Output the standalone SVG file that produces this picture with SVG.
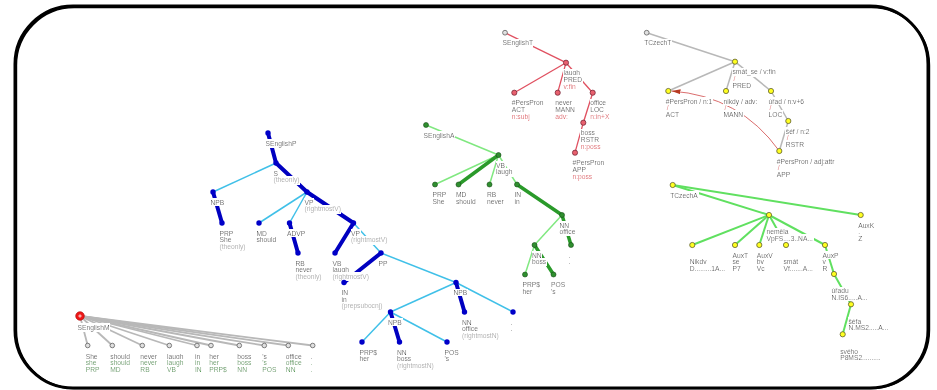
<svg xmlns="http://www.w3.org/2000/svg" width="937" height="390" viewBox="0 0 937 390">
<defs>
<filter id="bg" x="0" y="0" width="1" height="1"><feFlood flood-color="#ffffff"/><feComposite in="SourceGraphic" operator="over"/></filter>
<marker id="arr" markerUnits="userSpaceOnUse" markerWidth="9" markerHeight="6" refX="9" refY="3" orient="auto"><path d="M0,0.5 L9,3 L0,5.5 z" fill="#b83a22"/></marker>
<style>
text{font-family:"Liberation Sans",Arial,sans-serif;font-size:6.7px;fill:#333;filter:url(#bg)}
text.a{fill:#aaaaaa}
text.r{fill:#e03545}
text.gr{fill:#3c963c}
line{fill:none}
.eb{stroke:#0000c0;stroke-width:4;stroke-linecap:round}
.el{stroke:#40c0e8;stroke-width:1.5}
.eg{stroke:#2a9a2a;stroke-width:3.5;stroke-linecap:round}
.egl{stroke:#80e880;stroke-width:1.5}
.er{stroke:#e05060;stroke-width:1.3}
.et{stroke:#b8b8b8;stroke-width:1.5}
.ea{stroke:#60e060;stroke-width:2}
.em{stroke:#b8b8b8;stroke-width:1.8}
.nb{fill:#0000c8}
.ng{fill:#2f8f2f;stroke:#1a4a1a;stroke-width:0.6}
.nr{fill:#e8606e;stroke:#6a2030;stroke-width:0.7}
.ny{fill:#ffff20;stroke:#606030;stroke-width:0.8}
.no{fill:#e0e0e0;stroke:#606060;stroke-width:0.8}
</style>
</defs>
<rect x="0" y="0" width="937" height="390" fill="#ffffff"/>
<rect x="16.2" y="7.2" width="913" height="381" rx="58" ry="58" fill="none" stroke="#000" stroke-width="2"/>
<rect x="15" y="6" width="913" height="382" rx="58" ry="58" fill="none" stroke="#000" stroke-width="3"/>

<g id="connectors">
<!-- SEnglishM -->
<line class="em" x1="80" y1="316" x2="87.7" y2="345.5"/>
<line class="em" x1="80" y1="316" x2="112.3" y2="345.5"/>
<line class="em" x1="80" y1="316" x2="142.3" y2="345.5"/>
<line class="em" x1="80" y1="316" x2="169.3" y2="345.5"/>
<line class="em" x1="80" y1="316" x2="197" y2="345.5"/>
<line class="em" x1="80" y1="316" x2="211" y2="345.5"/>
<line class="em" x1="80" y1="316" x2="239.3" y2="345.5"/>
<line class="em" x1="80" y1="316" x2="264.3" y2="345.5"/>
<line class="em" x1="80" y1="316" x2="288.3" y2="345.5"/>
<line class="em" x1="80" y1="316" x2="312.7" y2="345.5"/>
<!-- SEnglishP -->
<line class="el" x1="276" y1="163" x2="213" y2="192"/>
<line class="el" x1="307" y1="192" x2="259" y2="223"/>
<line class="el" x1="307" y1="192" x2="289.5" y2="223"/>
<line class="el" x1="353.5" y1="223" x2="381" y2="253"/>
<line class="el" x1="381" y1="253" x2="456" y2="282.5"/>
<line class="el" x1="456" y1="282.5" x2="390.5" y2="312"/>
<line class="el" x1="456" y1="282.5" x2="513" y2="312"/>
<line class="el" x1="390.5" y1="312" x2="362" y2="342"/>
<line class="el" x1="390.5" y1="312" x2="447" y2="342"/>
<line class="eb" x1="268" y1="133" x2="276" y2="163"/>
<line class="eb" x1="276" y1="163" x2="307" y2="192"/>
<line class="eb" x1="213" y1="192" x2="222" y2="223"/>
<line class="eb" x1="307" y1="192" x2="353.5" y2="223"/>
<line class="eb" x1="289.5" y1="223" x2="298" y2="253"/>
<line class="eb" x1="353.5" y1="223" x2="335" y2="253"/>
<line class="eb" x1="381" y1="253" x2="344" y2="282.5"/>
<line class="eb" x1="456" y1="282.5" x2="464.5" y2="312"/>
<line class="eb" x1="390.5" y1="312" x2="399.5" y2="342"/>
<!-- SEnglishA -->
<line class="egl" x1="426" y1="125" x2="498.5" y2="155"/>
<line class="egl" x1="498.5" y1="155" x2="435" y2="184.5"/>
<line class="egl" x1="498.5" y1="155" x2="489.5" y2="184.5"/>
<line class="egl" x1="498.5" y1="155" x2="517" y2="184.5"/>
<line class="egl" x1="562" y1="215" x2="534.5" y2="245"/>
<line class="egl" x1="534.5" y1="245" x2="525" y2="274.5"/>
<line class="eg" x1="498.5" y1="155" x2="458.5" y2="184.5"/>
<line class="eg" x1="517" y1="184.5" x2="562" y2="215"/>
<line class="eg" x1="562" y1="215" x2="571" y2="245"/>
<line class="eg" x1="534.5" y1="245" x2="553.5" y2="274.5"/>
<!-- SEnglishT -->
<line class="er" x1="505" y1="32.7" x2="566" y2="62.7"/>
<line class="er" x1="566" y1="62.7" x2="514.3" y2="92.7"/>
<line class="er" x1="566" y1="62.7" x2="557.7" y2="92.7"/>
<line class="er" x1="566" y1="62.7" x2="592.7" y2="92.7"/>
<line class="er" x1="592.7" y1="92.7" x2="583.3" y2="122.7"/>
<line class="er" x1="583.3" y1="122.7" x2="575" y2="152.7"/>
<!-- TCzechT -->
<line class="et" x1="646.7" y1="32.7" x2="735" y2="61.7"/>
<line class="et" x1="735" y1="61.7" x2="668.3" y2="91"/>
<line class="et" x1="735" y1="61.7" x2="726" y2="91"/>
<line class="et" x1="735" y1="61.7" x2="771" y2="91"/>
<line class="et" x1="771" y1="91" x2="788.3" y2="121"/>
<line class="et" x1="788.3" y1="121" x2="779.3" y2="151"/>
<!-- TCzechA -->
<line class="ea" x1="672.7" y1="185" x2="769" y2="215"/>
<line class="ea" x1="672.7" y1="185" x2="860.7" y2="215"/>
<line class="ea" x1="769" y1="215" x2="692.3" y2="245"/>
<line class="ea" x1="769" y1="215" x2="735" y2="245"/>
<line class="ea" x1="769" y1="215" x2="759.3" y2="245"/>
<line class="ea" x1="769" y1="215" x2="786" y2="245"/>
<line class="ea" x1="769" y1="215" x2="825" y2="245"/>
<line class="ea" x1="825" y1="245" x2="834" y2="274"/>
<line class="ea" x1="834" y1="274" x2="851" y2="304.3"/>
<line class="ea" x1="851" y1="304.3" x2="842.7" y2="334.3"/>
</g>

<!-- SEnglishM nodes -->
<g id="SEnglishM"><text x="77.5" y="329.5">SEnglishM</text><circle cx="80" cy="316" r="4.3" fill="#ee1818" stroke="#aa0000" stroke-width="0.6"/><path d="M78.3,316 H81.7 M80,314.3 V317.7" stroke="#fff" stroke-width="0.8"/></g>
<g id="m1"><circle class="no" cx="87.7" cy="345.5" r="2.3"/><text x="85.7" y="358.8">She</text><text class="gr" x="85.7" y="365.4">she</text><text class="gr" x="85.7" y="372">PRP</text></g>
<g id="m2"><circle class="no" cx="112.3" cy="345.5" r="2.3"/><text x="110.3" y="358.8">should</text><text class="gr" x="110.3" y="365.4">should</text><text class="gr" x="110.3" y="372">MD</text></g>
<g id="m3"><circle class="no" cx="142.3" cy="345.5" r="2.3"/><text x="140.3" y="358.8">never</text><text class="gr" x="140.3" y="365.4">never</text><text class="gr" x="140.3" y="372">RB</text></g>
<g id="m4"><circle class="no" cx="169.3" cy="345.5" r="2.3"/><text x="167" y="358.8">laugh</text><text class="gr" x="167" y="365.4">laugh</text><text class="gr" x="167" y="372">VB</text></g>
<g id="m5"><circle class="no" cx="197" cy="345.5" r="2.3"/><text x="195" y="358.8">in</text><text class="gr" x="195" y="365.4">in</text><text class="gr" x="195" y="372">IN</text></g>
<g id="m6"><circle class="no" cx="211" cy="345.5" r="2.3"/><text x="209.3" y="358.8">her</text><text class="gr" x="209.3" y="365.4">her</text><text class="gr" x="209.3" y="372">PRP$</text></g>
<g id="m7"><circle class="no" cx="239.3" cy="345.5" r="2.3"/><text x="237.3" y="358.8">boss</text><text class="gr" x="237.3" y="365.4">boss</text><text class="gr" x="237.3" y="372">NN</text></g>
<g id="m8"><circle class="no" cx="264.3" cy="345.5" r="2.3"/><text x="262.3" y="358.8">'s</text><text class="gr" x="262.3" y="365.4">'s</text><text class="gr" x="262.3" y="372">POS</text></g>
<g id="m9"><circle class="no" cx="288.3" cy="345.5" r="2.3"/><text x="285.8" y="358.8">office</text><text class="gr" x="285.8" y="365.4">office</text><text class="gr" x="285.8" y="372">NN</text></g>
<g id="m10"><circle class="no" cx="312.7" cy="345.5" r="2.3"/><text x="310.7" y="358.8">.</text><text class="gr" x="310.7" y="365.4">.</text><text class="gr" x="310.7" y="372">.</text></g>

<!-- SEnglishP nodes -->
<g id="SEnglishP"><text x="265.5" y="145.5">SEnglishP</text><circle class="nb" cx="268" cy="133" r="2.7"/></g>
<g id="p1"><text x="273.5" y="175.5">S</text><text class="a" x="273.5" y="182.2">(theonly)</text><circle class="nb" cx="276" cy="163" r="2.7"/></g>
<g id="p2"><text x="210.5" y="204.5">NPB</text><circle class="nb" cx="213" cy="192" r="2.7"/></g>
<g id="p3"><text x="304.5" y="204.5">VP</text><text class="a" x="304.5" y="211.2">(rightmostV)</text><circle class="nb" cx="307" cy="192" r="2.7"/></g>
<g id="p4"><text x="219.5" y="235.5">PRP</text><text x="219.5" y="242.2">She</text><text class="a" x="219.5" y="248.9">(theonly)</text><circle class="nb" cx="222" cy="223" r="2.7"/></g>
<g id="p5"><text x="256.5" y="235.5">MD</text><text x="256.5" y="242.2">should</text><circle class="nb" cx="259" cy="223" r="2.7"/></g>
<g id="p6"><text x="287" y="235.5">ADVP</text><circle class="nb" cx="289.5" cy="223" r="2.7"/></g>
<g id="p7"><text x="351" y="235.5">VP</text><text class="a" x="351" y="242.2">(rightmostV)</text><circle class="nb" cx="353.5" cy="223" r="2.7"/></g>
<g id="p8"><text x="295.5" y="265.5">RB</text><text x="295.5" y="272.2">never</text><text class="a" x="295.5" y="278.9">(theonly)</text><circle class="nb" cx="298" cy="253" r="2.7"/></g>
<g id="p9"><text x="332.5" y="265.5">VB</text><text x="332.5" y="272.2">laugh</text><text class="a" x="332.5" y="278.9">(rightmostV)</text><circle class="nb" cx="335" cy="253" r="2.7"/></g>
<g id="p10"><text x="378.5" y="265.5">PP</text><circle class="nb" cx="381" cy="253" r="2.7"/></g>
<g id="p11"><text x="341.5" y="295">IN</text><text x="341.5" y="301.7">in</text><text class="a" x="341.5" y="308.4">(prepsubocnj)</text><circle class="nb" cx="344" cy="282.5" r="2.7"/></g>
<g id="p12"><text x="453.5" y="295">NPB</text><circle class="nb" cx="456" cy="282.5" r="2.7"/></g>
<g id="p13"><text x="388" y="324.5">NPB</text><circle class="nb" cx="390.5" cy="312" r="2.7"/></g>
<g id="p14"><text x="462" y="324.5">NN</text><text x="462" y="331.2">office</text><text class="a" x="462" y="337.9">(rightmostN)</text><circle class="nb" cx="464.5" cy="312" r="2.7"/></g>
<g id="p15"><text x="510.5" y="324.5">.</text><text x="510.5" y="331.2">.</text><circle class="nb" cx="513" cy="312" r="2.7"/></g>
<g id="p16"><text x="359.5" y="354.5">PRP$</text><text x="359.5" y="361.2">her</text><circle class="nb" cx="362" cy="342" r="2.7"/></g>
<g id="p17"><text x="397" y="354.5">NN</text><text x="397" y="361.2">boss</text><text class="a" x="397" y="367.9">(rightmostN)</text><circle class="nb" cx="399.5" cy="342" r="2.7"/></g>
<g id="p18"><text x="444.5" y="354.5">POS</text><text x="444.5" y="361.2">'s</text><circle class="nb" cx="447" cy="342" r="2.7"/></g>

<!-- SEnglishA nodes -->
<g id="SEnglishA"><text x="423.5" y="137.5">SEnglishA</text><circle class="ng" cx="426" cy="125" r="2.5"/></g>
<g id="a1"><text x="496" y="167.5">VB</text><text x="496" y="174.2">laugh</text><circle class="ng" cx="498.5" cy="155" r="2.5"/></g>
<g id="a2"><text x="432.5" y="197">PRP</text><text x="432.5" y="203.7">She</text><circle class="ng" cx="435" cy="184.5" r="2.5"/></g>
<g id="a3"><text x="456" y="197">MD</text><text x="456" y="203.7">should</text><circle class="ng" cx="458.5" cy="184.5" r="2.5"/></g>
<g id="a4"><text x="487" y="197">RB</text><text x="487" y="203.7">never</text><circle class="ng" cx="489.5" cy="184.5" r="2.5"/></g>
<g id="a5"><text x="514.5" y="197">IN</text><text x="514.5" y="203.7">in</text><circle class="ng" cx="517" cy="184.5" r="2.5"/></g>
<g id="a6"><text x="559.5" y="227.5">NN</text><text x="559.5" y="234.2">office</text><circle class="ng" cx="562" cy="215" r="2.5"/></g>
<g id="a7"><text x="532" y="257.5">NN</text><text x="532" y="264.2">boss</text><circle class="ng" cx="534.5" cy="245" r="2.5"/></g>
<g id="a8"><text x="568.5" y="257.5">.</text><text x="568.5" y="264.2">.</text><circle class="ng" cx="571" cy="245" r="2.5"/></g>
<g id="a9"><text x="522.5" y="287">PRP$</text><text x="522.5" y="293.7">her</text><circle class="ng" cx="525" cy="274.5" r="2.5"/></g>
<g id="a10"><text x="551" y="287">POS</text><text x="551" y="293.7">'s</text><circle class="ng" cx="553.5" cy="274.5" r="2.5"/></g>

<!-- SEnglishT nodes -->
<g id="SEnglishT"><text x="502.5" y="45.2">SEnglishT</text><circle class="no" cx="505" cy="32.7" r="2.4"/></g>
<g id="t1"><text x="563.5" y="75.2">laugh</text><text x="563.5" y="81.9">PRED</text><text class="r" x="563.5" y="88.6">v:fin</text><circle class="nr" cx="566" cy="62.7" r="2.6"/></g>
<g id="t2"><text x="511.8" y="105.2">#PersPron</text><text x="511.8" y="111.9">ACT</text><text class="r" x="511.8" y="118.6">n:subj</text><circle class="nr" cx="514.3" cy="92.7" r="2.6"/></g>
<g id="t3"><text x="555.2" y="105.2">never</text><text x="555.2" y="111.9">MANN</text><text class="r" x="555.2" y="118.6">adv:</text><circle class="nr" cx="557.7" cy="92.7" r="2.6"/></g>
<g id="t4"><text x="590.2" y="105.2">office</text><text x="590.2" y="111.9">LOC</text><text class="r" x="590.2" y="118.6">n:in+X</text><circle class="nr" cx="592.7" cy="92.7" r="2.6"/></g>
<g id="t5"><text x="580.8" y="135.2">boss</text><text x="580.8" y="141.9">RSTR</text><text class="r" x="580.8" y="148.6">n:poss</text><circle class="nr" cx="583.3" cy="122.7" r="2.6"/></g>
<g id="t6"><text x="572.5" y="165.2">#PersPron</text><text x="572.5" y="171.9">APP</text><text class="r" x="572.5" y="178.6">n:poss</text><circle class="nr" cx="575" cy="152.7" r="2.6"/></g>

<!-- TCzechT nodes -->
<g id="coref"><path d="M779.3,151 Q740,96 671.5,91" fill="none" stroke="#d04848" stroke-width="0.8" marker-end="url(#arr)"/></g>
<g id="TCzechT"><text x="644.2" y="45.2">TCzechT</text><circle class="no" cx="646.7" cy="32.7" r="2.4"/></g>
<g id="c1"><text x="732.5" y="74.2">smát_se / v:fin</text><text class="r" x="733.5" y="80.9">/</text><text x="732.5" y="87.6">PRED</text><circle class="ny" cx="735" cy="61.7" r="2.6"/></g>
<g id="c2"><text x="665.8" y="103.5">#PersPron / n:1</text><text class="r" x="666.8" y="110.2">/</text><text x="665.8" y="116.9">ACT</text><circle class="ny" cx="668.3" cy="91" r="2.6"/></g>
<g id="c3"><text x="723.5" y="103.5">nikdy / adv:</text><text class="r" x="724.5" y="110.2">/</text><text x="723.5" y="116.9">MANN</text><circle class="ny" cx="726" cy="91" r="2.6"/></g>
<g id="c4"><text x="768.5" y="103.5">úřad / n:v+6</text><text class="r" x="769.5" y="110.2">/</text><text x="768.5" y="116.9">LOC</text><circle class="ny" cx="771" cy="91" r="2.6"/></g>
<g id="c5"><text x="785.8" y="133.5">šéf / n:2</text><text class="r" x="786.8" y="140.2">/</text><text x="785.8" y="146.9">RSTR</text><circle class="ny" cx="788.3" cy="121" r="2.6"/></g>
<g id="c6"><text x="776.8" y="163.5">#PersPron / adj:attr</text><text class="r" x="777.8" y="170.2">/</text><text x="776.8" y="176.9">APP</text><circle class="ny" cx="779.3" cy="151" r="2.6"/></g>

<!-- TCzechA nodes -->
<g id="TCzechA"><text x="670.2" y="197.5">TCzechA</text><circle class="ny" cx="672.7" cy="185" r="2.6"/></g>
<g id="z1"><text x="766.5" y="234.2">neměla</text><text x="766.5" y="240.9">VpFS....3..NA...</text><circle class="ny" cx="769" cy="215" r="2.6"/></g>
<g id="z2"><text x="858.2" y="227.5">AuxK</text><text x="858.2" y="234.2">.</text><text x="858.2" y="240.9">Z</text><circle class="ny" cx="860.7" cy="215" r="2.6"/></g>
<g id="z3"><text x="689.8" y="264.2">Nikdy</text><text x="689.8" y="270.9">D.........1A...</text><circle class="ny" cx="692.3" cy="245" r="2.6"/></g>
<g id="z4"><text x="732.5" y="257.5">AuxT</text><text x="732.5" y="264.2">se</text><text x="732.5" y="270.9">P7</text><circle class="ny" cx="735" cy="245" r="2.6"/></g>
<g id="z5"><text x="756.8" y="257.5">AuxV</text><text x="756.8" y="264.2">by</text><text x="756.8" y="270.9">Vc</text><circle class="ny" cx="759.3" cy="245" r="2.6"/></g>
<g id="z6"><text x="783.5" y="264.2">smát</text><text x="783.5" y="270.9">Vf.......A...</text><circle class="ny" cx="786" cy="245" r="2.6"/></g>
<g id="z7"><text x="822.5" y="257.5">AuxP</text><text x="822.5" y="264.2">v</text><text x="822.5" y="270.9">R</text><circle class="ny" cx="825" cy="245" r="2.6"/></g>
<g id="z8"><text x="831.5" y="293.2">úřadu</text><text x="831.5" y="299.9">N.IS6.....A...</text><circle class="ny" cx="834" cy="274" r="2.6"/></g>
<g id="z9"><text x="848.5" y="323.5">šéfa</text><text x="848.5" y="330.2">N.MS2.....A...</text><circle class="ny" cx="851" cy="304.3" r="2.6"/></g>
<g id="z10"><text x="840.2" y="353.5">svého</text><text x="840.2" y="360.2">P8MS2..........</text><circle class="ny" cx="842.7" cy="334.3" r="2.6"/></g>
</svg>
